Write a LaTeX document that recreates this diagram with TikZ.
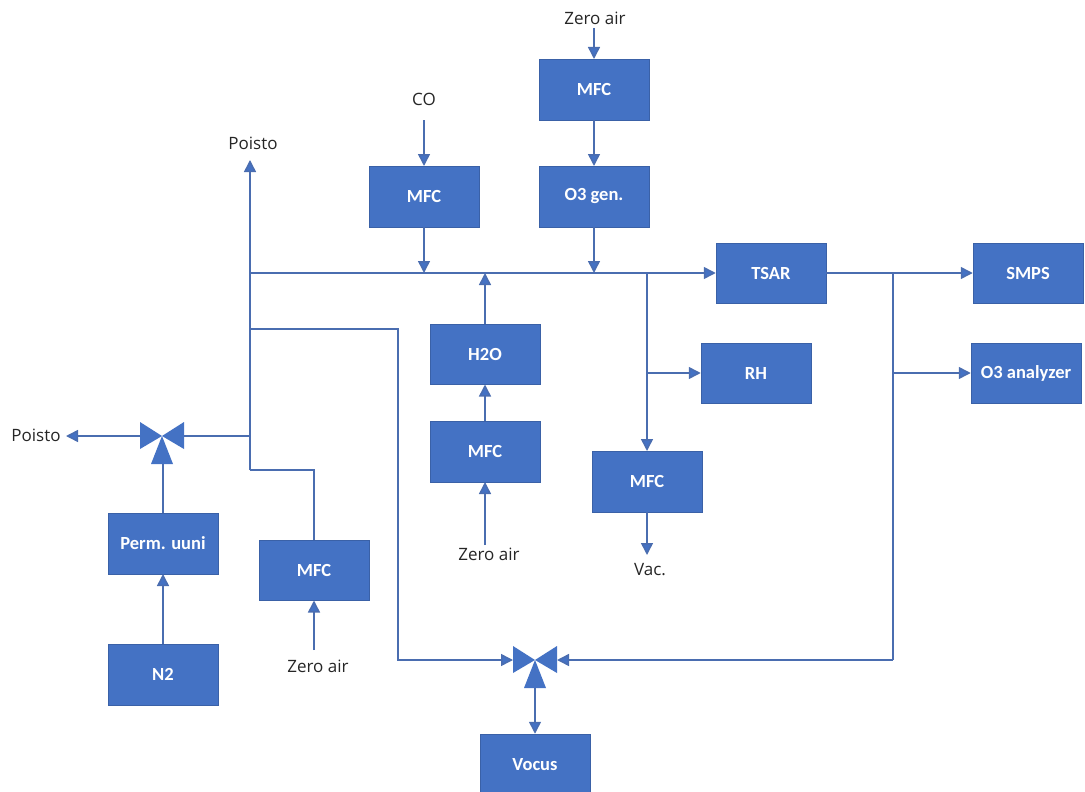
\documentclass[tikz,border=0pt]{standalone}
\usepackage{fontspec}
\setmainfont{Carlito}
\newfontfamily\labelfont{Open Sans}
\usetikzlibrary{arrows.meta}
\definecolor{boxblue}{HTML}{4472C4}
\definecolor{linkblue}{HTML}{4A6DB0}
\tikzset{
  blockbox/.style={fill=boxblue,draw=boxblue!85!black,line width=0.5pt,text=white,font=\fontsize{18.5}{20}\selectfont\bfseries,minimum width=110pt,minimum height=60.5pt,inner sep=0pt},
  lbl/.style={font=\labelfont\fontsize{17}{18}\selectfont,text=black!85,inner sep=0pt},
  link/.style={draw=linkblue,line width=1.5pt},
  flow/.style={link,-{Triangle[length=12pt,width=12pt,fill=boxblue]}},
  valvepart/.style={fill=boxblue,draw=none}
}
\begin{document}
\begin{tikzpicture}[x=1pt,y=-1pt]
\useasboundingbox (0,0) rectangle (1085,792);
% blocks
\node[blockbox] (mfcT) at (594,89.5) {MFC};
\node[blockbox] (o3g) at (594,196.5) {O3 gen.};
\node[blockbox] (mfcCO) at (424,196.5) {MFC};
\node[blockbox] (tsar) at (771,273) {TSAR};
\node[blockbox] (smps) at (1028,273) {SMPS};
\node[blockbox] (rh) at (756,373) {RH};
\node[blockbox] (o3a) at (1026,373) {O3 analyzer};
\node[blockbox] (h2o) at (485,354) {H2O};
\node[blockbox] (mfcW) at (485,451.5) {MFC};
\node[blockbox] (mfcV) at (647,481.5) {MFC};
\node[blockbox] (perm) at (163,543.5) {Perm. uuni};
\node[blockbox] (n2) at (163,674.5) {N2};
\node[blockbox] (mfcL) at (314,570) {MFC};
\node[blockbox,minimum height=61pt] (vocus) at (535,764.5) {Vocus};
% labels
\node[lbl] (zaT) at (595,18) {Zero air};
\node[lbl] (co) at (424,99) {CO};
\node[lbl] (poT) at (253,143) {Poisto};
\node[lbl] (poL) at (36,435) {Poisto};
\node[lbl] (zaW) at (489,554) {Zero air};
\node[lbl] (vac) at (650,570) {Vac.};
\node[lbl] (zaL) at (318,666) {Zero air};
% valves
\coordinate (v1) at (162,436);
\coordinate (v1l) at (140,436);
\coordinate (v1r) at (184,436);
\coordinate (v1b) at (162,464);
\coordinate (v2) at (535,660);
\coordinate (v2l) at (513,660);
\coordinate (v2r) at (557,660);
\coordinate (v2b) at (535,688);
\fill[valvepart] (v1) -- (140,422) -- (140,449) -- cycle;
\fill[valvepart] (v1) -- (184,422) -- (184,449) -- cycle;
\fill[valvepart] (v1) -- (151,464) -- (173,464) -- cycle;
\fill[valvepart] (v2) -- (513,646) -- (513,673) -- cycle;
\fill[valvepart] (v2) -- (557,646) -- (557,673) -- cycle;
\fill[valvepart] (v2) -- (524,688) -- (546,688) -- cycle;
% junctions
\coordinate (jTop) at (250,160);
\coordinate (jMain) at (250,273);
\coordinate (jBranch) at (250,329);
\coordinate (jValve) at (250,436);
\coordinate (jLow) at (250,470);
\coordinate (jCO) at (424,273);
\coordinate (jH) at (485,273);
\coordinate (jO3) at (594,273);
\coordinate (jV) at (647,273);
\coordinate (jRH) at (647,373);
\coordinate (jS) at (893,273);
\coordinate (jA) at (893,373);
\coordinate (jB) at (893,660);
\coordinate (cL1) at (398,329);
\coordinate (cL2) at (398,660);
\coordinate (cM) at (314,470);
\coordinate (poLr) at (66,436);
\coordinate (sZT) at (594,28);
\coordinate (sCO) at (424,120);
\coordinate (sZW) at (485,545);
\coordinate (sZL) at (314,650);
\coordinate (eVac) at (647,555);
% connectors
\draw[flow] (sZT) -- (mfcT.north);
\draw[flow] (mfcT.south) -- (o3g.north);
\draw[flow] (o3g.south) -- (jO3);
\draw[flow] (sCO) -- (mfcCO.north);
\draw[flow] (mfcCO.south) -- (jCO);
\draw[flow] (jMain) -- (tsar.west);
\draw[flow] (tsar.east) -- (smps.west);
\draw[flow] (h2o.north) -- (jH);
\draw[flow] (mfcW.north) -- (h2o.south);
\draw[flow] (sZW) -- (mfcW.south);
\draw[flow] (jV) -- (mfcV.north);
\draw[flow] (jRH) -- (rh.west);
\draw[flow] (mfcV.south) -- (eVac);
\draw[flow] (jA) -- (o3a.west);
\draw[link] (jS) -- (jB);
\draw[flow] (jB) -- (v2r);
\draw[flow] (jLow) -- (jTop);
\draw[link] (mfcL.north) -- (cM) -- (jLow);
\draw[flow] (sZL) -- (mfcL.south);
\draw[flow] (jBranch) -- (cL1) -- (cL2) -- (v2l);
\draw[link] (jValve) -- (v1r);
\draw[flow] (v1l) -- (poLr);
\draw[link] (perm.north) -- (perm.north |- v1b);
\draw[flow] (n2.north) -- (perm.south);
\draw[flow] (v2b) -- (vocus.north);
\end{tikzpicture}
\end{document}
